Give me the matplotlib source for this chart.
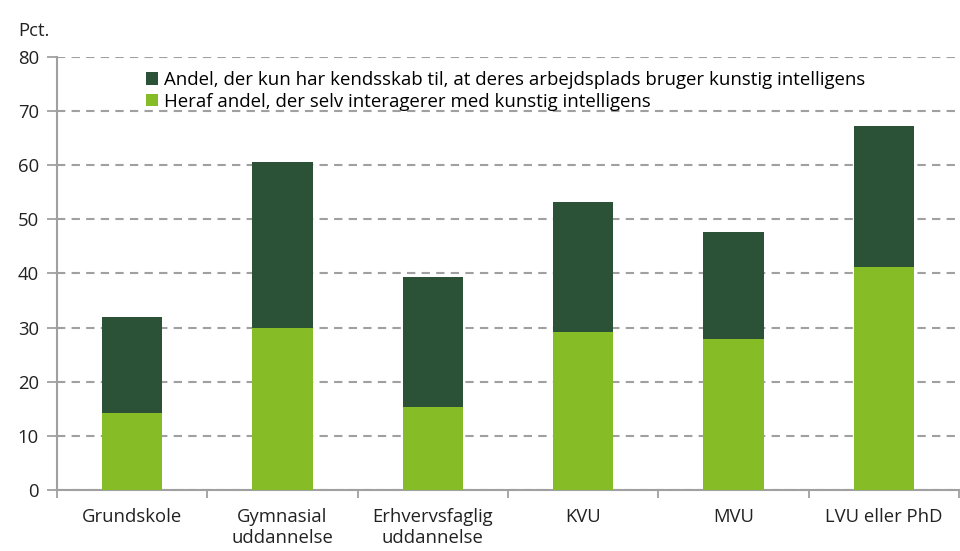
import numpy as np
import matplotlib.pyplot as plt
from matplotlib.ticker import FixedLocator

plt.rcParams['font.family'] = ['Open Sans', 'DejaVu Sans']

categories = ["Grundskole", "Gymnasial\nuddannelse", "Erhvervsfaglig\nuddannelse",
              "KVU", "MVU", "LVU eller PhD"]
total = [32.0, 60.6, 39.4, 53.2, 47.7, 67.3]
interact = [14.2, 29.9, 15.3, 29.2, 27.9, 41.2]
labels = ["Andel, der kun har kendsskab til, at deres arbejdsplads bruger kunstig intelligens",
          "Heraf andel, der selv interagerer med kunstig intelligens"]

dark = "#2b5237"
light = "#86bc25"
grey = "#a0a0a0"

fig = plt.figure(figsize=(9.6, 5.51), dpi=100)
ax = fig.add_axes([0.0594, 0.1107, 0.9396, 0.7859])

x = np.arange(len(categories))
rest = [t - i for t, i in zip(total, interact)]
b2 = ax.bar(x, interact, width=0.4, color=light, zorder=3, label=labels[1])
b1 = ax.bar(x, rest, bottom=interact, width=0.4, color=dark, zorder=3, label=labels[0])

ax.set_xlim(-0.5, len(categories) - 0.5)
ax.set_ylim(0, 80)
ax.set_yticks(range(0, 81, 10))
ax.yaxis.grid(True, linestyle=(0, (4, 3)), color=grey, linewidth=1.5, zorder=0)
ax.set_xticks(x)
ax.set_xticklabels(categories, fontsize=13.3, color="#222222")
ax.xaxis.set_minor_locator(FixedLocator(np.arange(-0.5, len(categories), 1.0)))
ax.tick_params(axis="x", which="major", length=0, pad=13)
ax.tick_params(axis="x", which="minor", length=6, width=1.3, color=grey)
ax.tick_params(axis="y", length=7, width=1.3, color=grey, labelsize=13.3, labelcolor="#222222", pad=6)

for s in ["top", "right"]:
    ax.spines[s].set_visible(False)
for s in ["left", "bottom"]:
    ax.spines[s].set_color(grey)
    ax.spines[s].set_linewidth(1.5)

ax.text(-0.043, 1.04, "Pct.", transform=ax.transAxes, fontsize=13.3, color="#222222",
        ha="left", va="bottom")

ax.legend(handles=[b1, b2], loc="upper left", bbox_to_anchor=(0.09, 0.985), frameon=False,
          fontsize=13.4, handlelength=0.65, handleheight=0.65, handletextpad=0.35,
          labelspacing=0.2, borderaxespad=0)

fig.savefig("out.png", dpi=100)
